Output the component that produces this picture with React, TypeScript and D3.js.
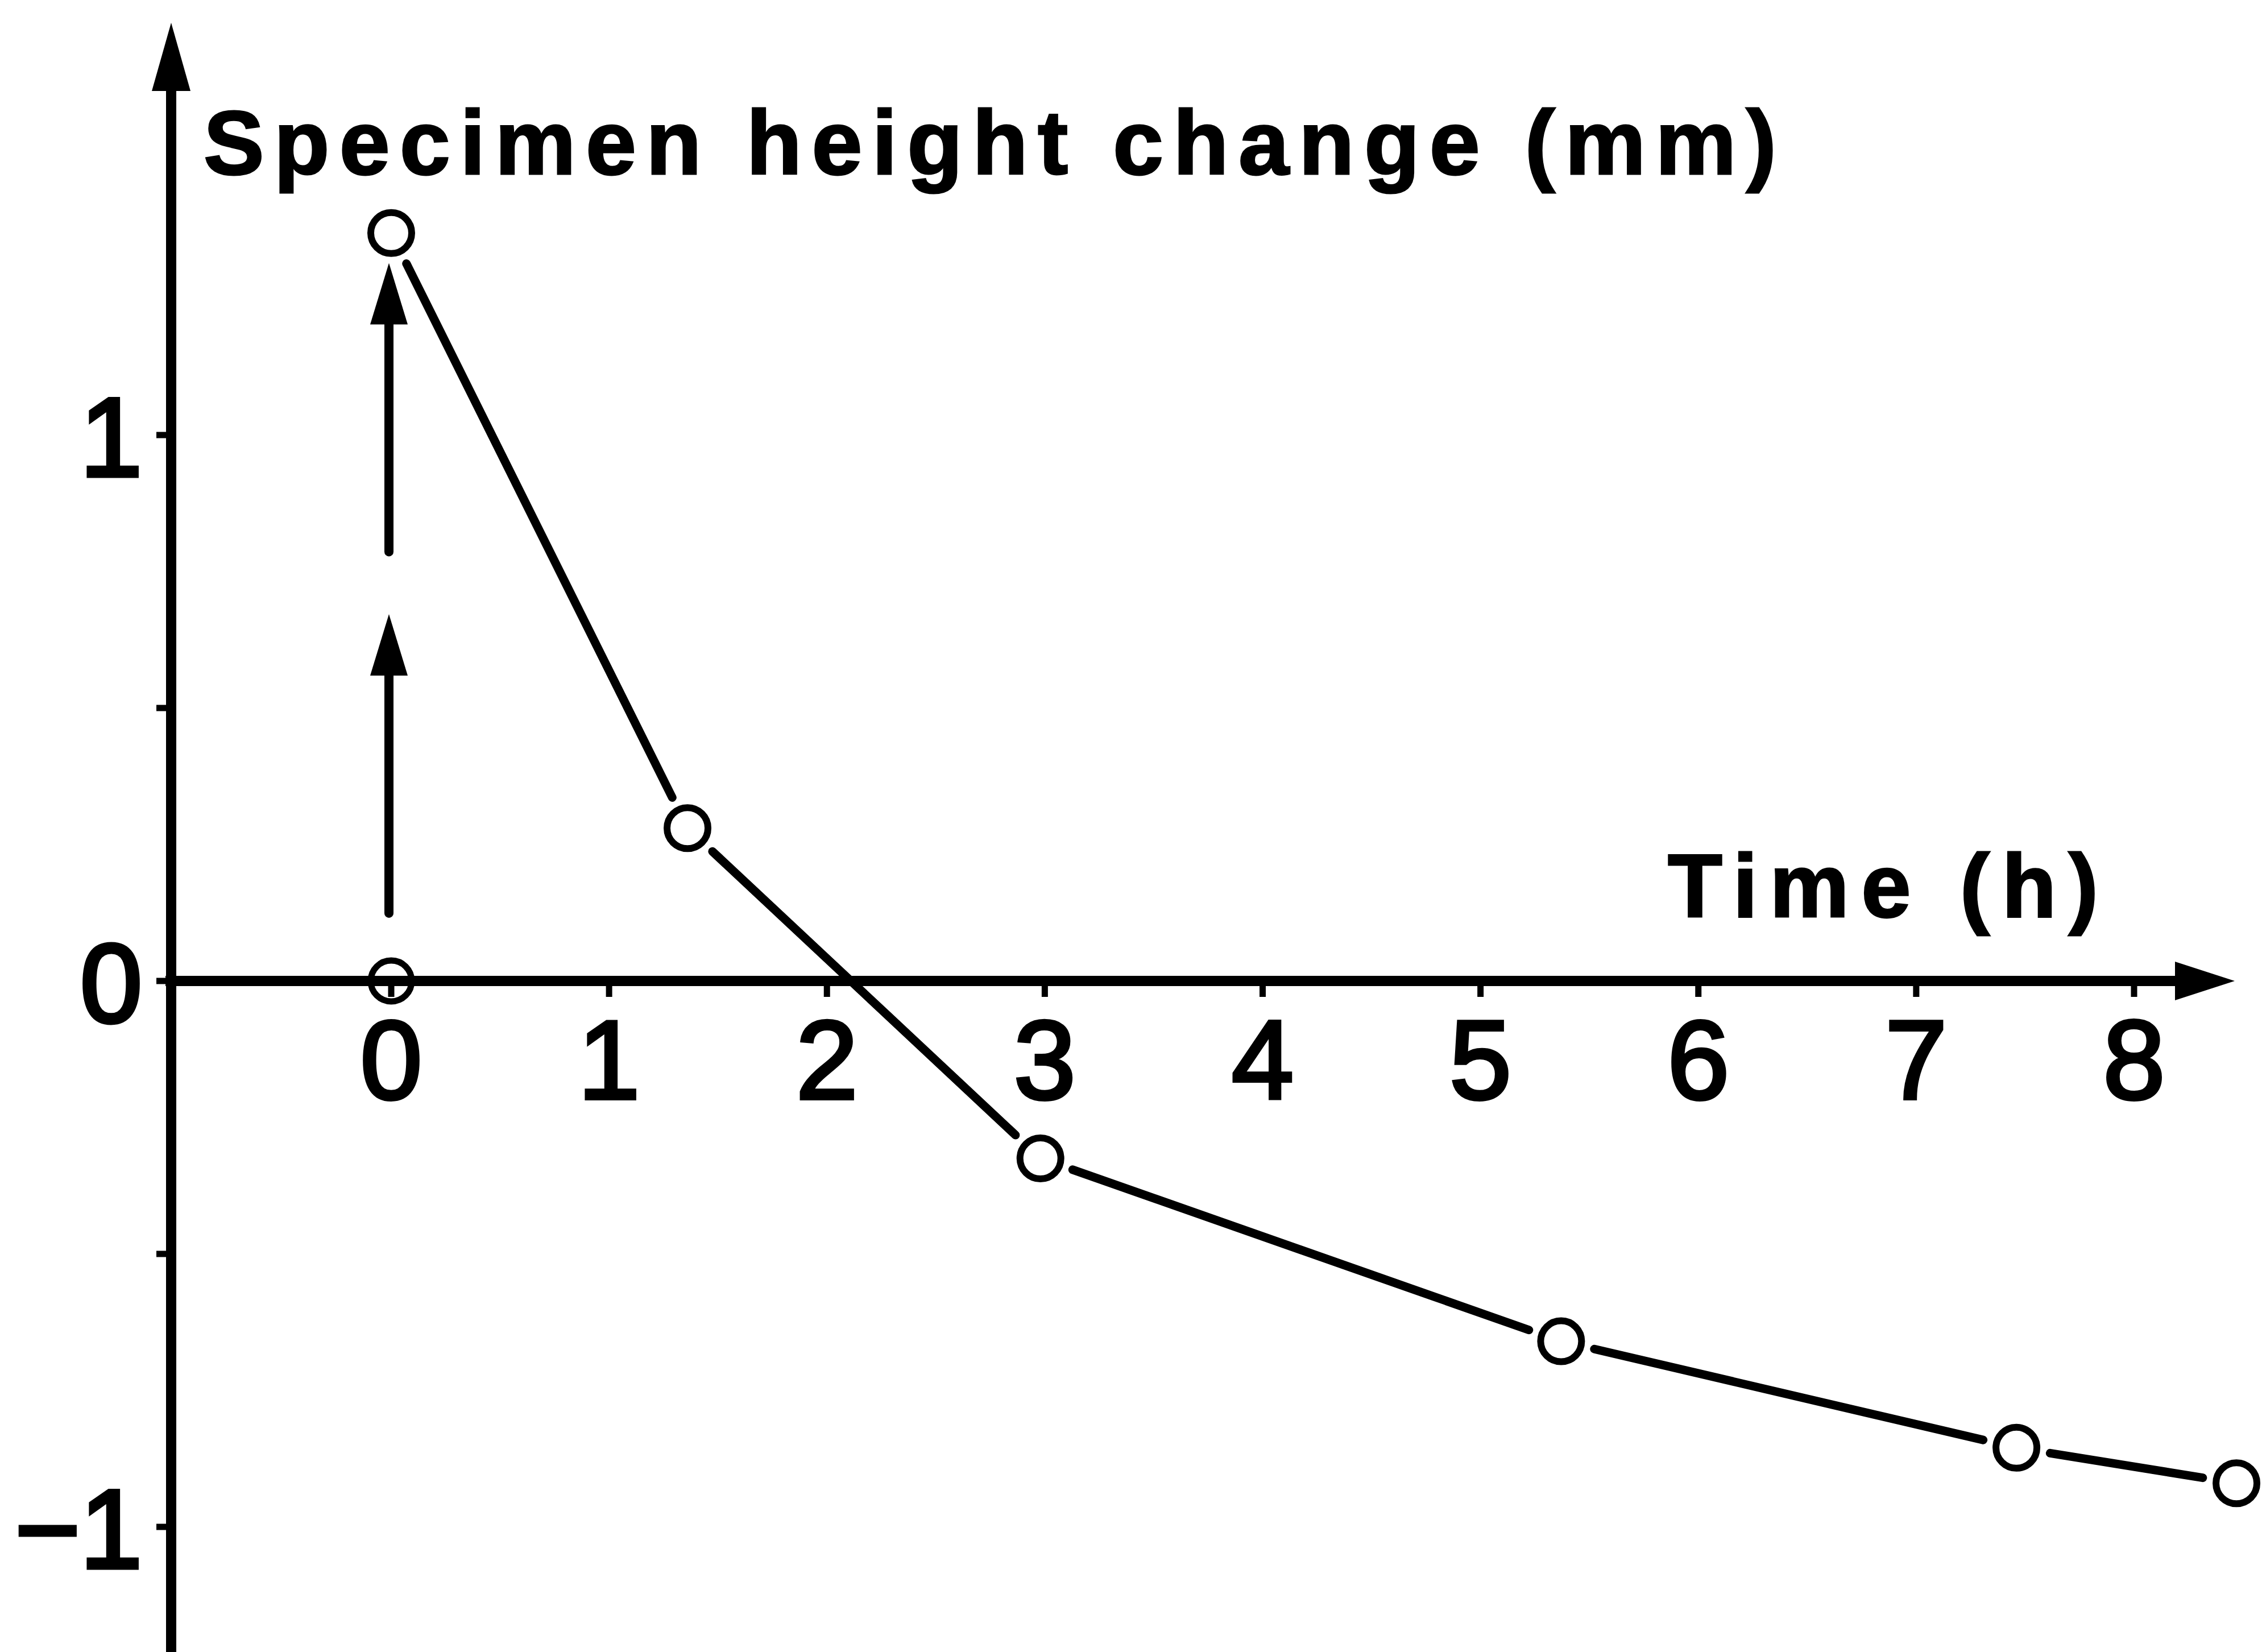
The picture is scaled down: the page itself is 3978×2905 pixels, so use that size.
import React from 'react';
import * as d3 from 'd3';

// ---- data ----
const timeH = [0, 1.36, 2.98, 5.37, 7.46, 8.47];
const heightMm = [1.37, 0.28, -0.325, -0.66, -0.855, -0.92];
const initialPoint = [0, 0];
const xTicks = [0, 1, 2, 3, 4, 5, 6, 7, 8];
const xTickLabels = ['0', '1', '2', '3', '4', '5', '6', '7', '8'];
const yTicks = [-1, -0.5, 0, 0.5, 1];
const yLabelValues = [-1, 0, 1];
const yLabelTexts = ['\u22121', '0', '1'];
const jumpArrowsFrom = [0.124, 0.786];
const jumpArrowsTo = [0.672, 1.315];
const yAxisLabel = 'Specimen height change (mm)';
const xAxisLabel = 'Time (h)';

const W = 3978;
const H = 2905;
const FONT = '"Liberation Sans", Arial, Helvetica, sans-serif';

export default function App() {
  const x = d3.scaleLinear().domain([0, 8]).range([688, 3753]);
  const y = d3.scaleLinear().domain([-1, 1]).range([2685, 765]);

  const axisX = 301;
  const axisY = y(0);
  const xTipPx = 3930;
  const yTipPx = 40;
  const axisW = 18;

  const pts = timeH.map((t, i) => [x(t), y(heightMm[i])]);
  const gap = 60;
  const segs = [];
  for (let i = 0; i < pts.length - 1; i++) {
    const [x1, y1] = pts[i];
    const [x2, y2] = pts[i + 1];
    const dx = x2 - x1, dy = y2 - y1;
    const L = Math.hypot(dx, dy);
    const ux = dx / L, uy = dy / L;
    segs.push([x1 + ux * gap, y1 + uy * gap, x2 - ux * gap, y2 - uy * gap]);
  }

  const r = 36;

  return (
    <svg width={W} height={H} style={{ position: 'absolute', left: 0, top: 0, background: '#fff' }}>
      <rect x={0} y={0} width={W} height={H} fill="#fff" />
      {/* Y axis */}
      <line x1={axisX} y1={H} x2={axisX} y2={yTipPx + 110} stroke="#000" strokeWidth={axisW} />
      <polygon points={`${axisX},${yTipPx} ${axisX - 34},${yTipPx + 120} ${axisX + 34},${yTipPx + 120}`} fill="#000" />
      {/* X axis */}
      <line x1={axisX - 10} y1={axisY} x2={xTipPx - 95} y2={axisY} stroke="#000" strokeWidth={axisW} />
      <polygon points={`${xTipPx},${axisY} ${xTipPx - 105},${axisY - 34} ${xTipPx - 105},${axisY + 34}`} fill="#000" />
      {/* x ticks */}
      {xTicks.map((t, i) => (
        <g key={'xt' + i}>
          <line x1={x(t)} y1={axisY} x2={x(t)} y2={axisY + 28} stroke="#000" strokeWidth={11} />
          <text x={x(t)} y={1932} textAnchor="middle" fontFamily={FONT} fontSize={196} stroke="#000" strokeWidth={6} fill="#000">{xTickLabels[i]}</text>
        </g>
      ))}
      {/* y ticks */}
      {yTicks.map((v, i) => (
        <line key={'yt' + i} x1={axisX} y1={y(v)} x2={axisX - 26} y2={y(v)} stroke="#000" strokeWidth={11} />
      ))}
      {yLabelValues.map((v, i) => (
        <text key={'yl' + i} x={250} y={y(v) + 72} textAnchor="end" fontFamily={FONT} fontSize={196} stroke="#000" strokeWidth={7} fill="#000">{yLabelTexts[i]}</text>
      ))}
      {/* axis titles */}
      <text x={358} y={306} fontFamily={FONT} fontWeight="bold" fontSize={160} textLength={2766} lengthAdjust="spacing" stroke="#000" strokeWidth={3} fill="#000">{yAxisLabel}</text>
      <text x={2933} y={1612} fontFamily={FONT} fontWeight="bold" fontSize={157} textLength={757} lengthAdjust="spacing" stroke="#000" strokeWidth={3} fill="#000">{xAxisLabel}</text>
      {/* jump arrows */}
      {jumpArrowsFrom.map((v, i) => {
        const ax = x(initialPoint[0]) - 4;
        const yb = y(v);
        const yt = y(jumpArrowsTo[i]);
        return (
          <g key={'ar' + i}>
            <line x1={ax} y1={yb} x2={ax} y2={yt + 90} stroke="#000" strokeWidth={16} strokeLinecap="round" />
            <polygon points={`${ax},${yt} ${ax - 33},${yt + 108} ${ax + 33},${yt + 108}`} fill="#000" />
          </g>
        );
      })}
      {/* curve segments */}
      {segs.map((s, i) => (
        <line key={'sg' + i} x1={s[0]} y1={s[1]} x2={s[2]} y2={s[3]} stroke="#000" strokeWidth={15} strokeLinecap="round" />
      ))}
      {/* points */}
      <circle cx={x(initialPoint[0])} cy={y(initialPoint[1])} r={r} fill="none" stroke="#000" strokeWidth={11} />
      {pts.map((p, i) => (
        <circle key={'pt' + i} cx={p[0]} cy={p[1]} r={r} fill="#fff" stroke="#000" strokeWidth={12} />
      ))}
    </svg>
  );
}
